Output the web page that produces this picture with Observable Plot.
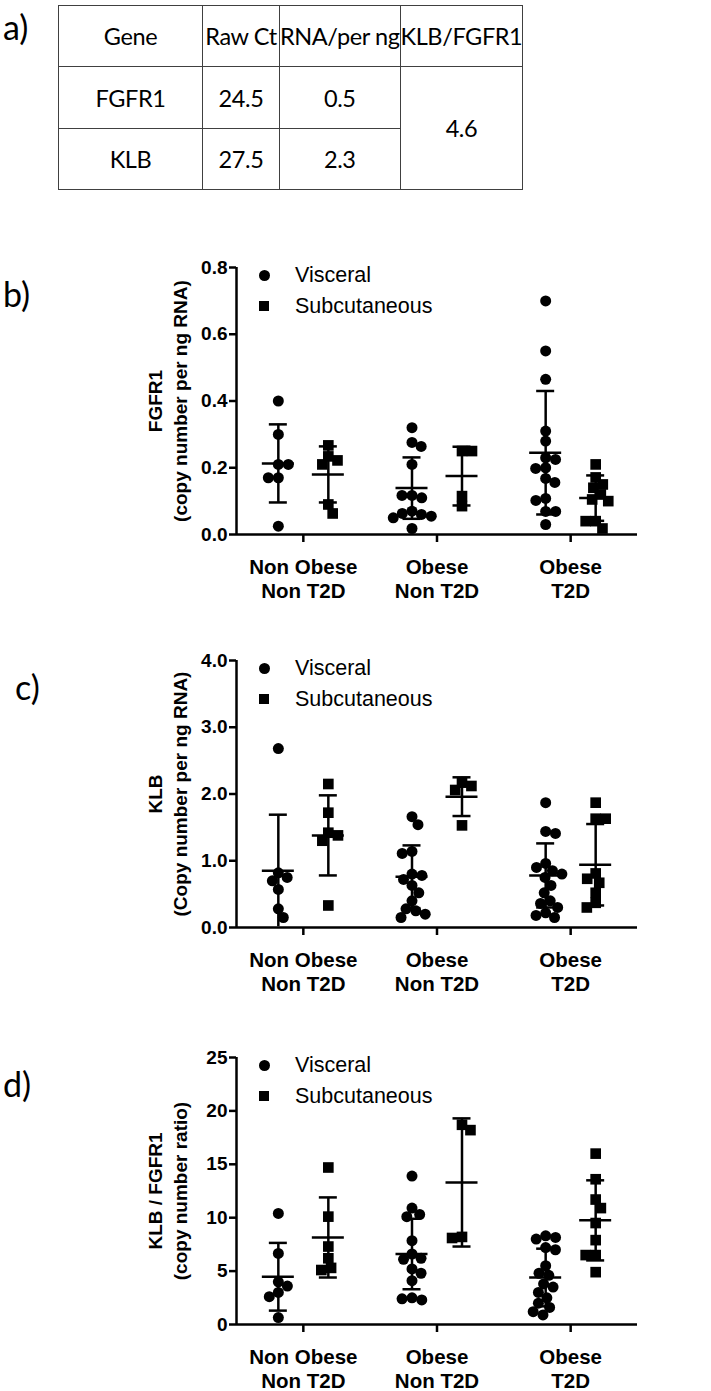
<!DOCTYPE html>
<html><head><meta charset="utf-8">
<script src="https://cdn.jsdelivr.net/npm/d3@7"></script>
<script src="https://cdn.jsdelivr.net/npm/@observablehq/plot@0.6"></script>
<style>
html,body{margin:0;padding:0;background:#fff;}
#page{position:relative;width:711px;height:1391px;overflow:hidden;background:#fff;font-family:"Liberation Sans",Arial,sans-serif;color:#000;}
#page svg{position:absolute;left:0;}
.plabel{position:absolute;font-family:Lato,"Noto Sans",sans-serif;font-size:34px;line-height:34px;}
table.t{position:absolute;left:58px;top:5px;border-collapse:collapse;table-layout:fixed;font-family:Lato,"Noto Sans",sans-serif;font-size:23.5px;letter-spacing:-0.4px;color:#000;}
table.t td{border:1px solid #404040;text-align:center;vertical-align:middle;padding:0;white-space:nowrap;overflow:visible;}
.ylab{position:absolute;width:340px;height:50px;font-weight:bold;font-size:19px;line-height:25px;text-align:center;transform:rotate(-90deg);white-space:nowrap;}
.legtxt{position:absolute;font-size:21.5px;line-height:21px;font-weight:normal;white-space:nowrap;}
.legsym{position:absolute;background:#000;}
svg g[aria-label^="y-axis"] line, svg g[aria-label^="y-axis"] path,
svg g[aria-label^="x-axis"] line, svg g[aria-label^="x-axis"] path {stroke-width:2.5px;}
</style></head><body><div id="page"></div>
<script>
// ---------- a) table ----------
const tableHeader = ["Gene", "Raw Ct", "RNA/per ng", "KLB/FGFR1"];
const genes = ["FGFR1", "KLB"];
const rawCt = ["24.5", "27.5"];
const rnaPerNg = ["0.5", "2.3"];
const klbFgfr1 = "4.6";

// ---------- groups ----------
const groups = ["Non Obese\nNon T2D", "Obese\nNon T2D", "Obese\nT2D"];
const tissues = ["Visceral", "Subcutaneous"];

// ---------- b) FGFR1 copy number per ng RNA ----------
const fgfr1Visceral = [
  [0.40, 0.30, 0.21, 0.21, 0.17, 0.17, 0.025],
  [0.32, 0.276, 0.264, 0.21, 0.117, 0.117, 0.11, 0.07, 0.063, 0.06, 0.055, 0.05, 0.018],
  [0.70, 0.55, 0.465, 0.31, 0.28, 0.23, 0.225, 0.20, 0.198, 0.168, 0.156, 0.108, 0.102, 0.069, 0.069, 0.03]
];
const fgfr1Subcutaneous = [
  [0.267, 0.234, 0.222, 0.21, 0.09, 0.063],
  [0.25, 0.25, 0.115, 0.085],
  [0.21, 0.171, 0.15, 0.14, 0.12, 0.105, 0.10, 0.04, 0.04, 0.018]
];
const fgfr1VisceralMean = [0.213, 0.139, 0.245];
const fgfr1VisceralSD = [0.117, 0.092, 0.185];
const fgfr1SubcutaneousMean = [0.180, 0.175, 0.109];
const fgfr1SubcutaneousSD = [0.084, 0.088, 0.068];
const fgfr1Ticks = [0, 0.2, 0.4, 0.6, 0.8];

// ---------- c) KLB copy number per ng RNA ----------
const klbVisceral = [
  [2.68, 0.82, 0.75, 0.70, 0.57, 0.28, 0.15],
  [1.66, 1.54, 1.14, 1.11, 0.80, 0.78, 0.72, 0.63, 0.52, 0.40, 0.28, 0.25, 0.20, 0.15],
  [1.87, 1.44, 1.41, 0.96, 0.90, 0.85, 0.80, 0.75, 0.63, 0.52, 0.40, 0.36, 0.30, 0.22, 0.18, 0.15]
];
const klbSubcutaneous = [
  [2.15, 1.72, 1.42, 1.38, 1.30, 0.33],
  [2.17, 2.12, 2.06, 1.53],
  [1.87, 1.63, 1.63, 0.81, 0.73, 0.67, 0.52, 0.37, 0.30]
];
const klbVisceralMean = [0.85, 0.76, 0.78];
const klbVisceralSD = [0.84, 0.47, 0.48];
const klbSubcutaneousMean = [1.38, 1.96, 0.94];
const klbSubcutaneousSD = [0.60, 0.29, 0.61];
const klbTicks = [0, 1, 2, 3, 4];

// ---------- d) KLB / FGFR1 ratio ----------
const ratioVisceral = [
  [10.4, 6.65, 4.0, 3.6, 3.0, 2.6, 0.65],
  [13.9, 10.9, 10.3, 10.1, 7.85, 6.6, 6.2, 6.1, 5.2, 4.8, 4.1, 2.5, 2.3, 2.4],
  [8.3, 8.15, 8.0, 7.2, 7.0, 5.5, 4.8, 4.6, 3.8, 3.5, 3.0, 2.5, 2.0, 1.6, 1.2, 0.9]
];
const ratioSubcutaneous = [
  [14.7, 10.1, 7.3, 6.2, 5.3, 5.1],
  [18.7, 18.2, 8.2, 8.1],
  [16.0, 13.6, 11.7, 10.9, 9.5, 7.9, 6.5, 6.5, 4.9]
];
const ratioVisceralMean = [4.47, 6.6, 4.4];
const ratioVisceralSD = [3.17, 3.3, 2.7];
const ratioSubcutaneousMean = [8.15, 13.3, 9.75];
const ratioSubcutaneousSD = [3.75, 6.0, 3.75];
const ratioTicks = [0, 5, 10, 15, 20, 25];

// ---------- layout ----------
const page = document.getElementById("page");
const W = 711, ML = 236, MR = 74, MT = 20, FH = 267, MB = 64;
const pxPerX = (W - ML - MR) / 3;
const colOff = 25 / pxPerX, meanHalf = 16 / pxPerX, capHalf = 9 / pxPerX;

function el(tag, cls, style, html) {
  const e = document.createElement(tag);
  if (cls) e.className = cls;
  Object.assign(e.style, style || {});
  if (html != null) e.innerHTML = html;
  page.appendChild(e);
  return e;
}

// table
{
  const t = document.createElement("table");
  t.className = "t";
  const colW = [144, 77, 120, 119];
  const cg = document.createElement("colgroup");
  colW.forEach(w => { const c = document.createElement("col"); c.style.width = w + "px"; cg.appendChild(c); });
  t.appendChild(cg);
  const rowH = [61, 62, 61];
  const tr0 = document.createElement("tr"); tr0.style.height = rowH[0] + "px";
  tableHeader.forEach(h => { const td = document.createElement("td"); td.textContent = h; tr0.appendChild(td); });
  t.appendChild(tr0);
  genes.forEach((g, i) => {
    const tr = document.createElement("tr"); tr.style.height = rowH[i + 1] + "px";
    [g, rawCt[i], rnaPerNg[i]].forEach(v => { const td = document.createElement("td"); td.textContent = v; tr.appendChild(td); });
    if (i === 0) { const td = document.createElement("td"); td.rowSpan = 2; td.textContent = klbFgfr1; tr.appendChild(td); }
    t.appendChild(tr);
  });
  page.appendChild(t);
}

// beeswarm offsets (px) computed from values
function swarm(values, pxPerY, D) {
  const order = d3.range(values.length).sort((a, b) => values[b] - values[a]);
  const placed = [], out = new Array(values.length);
  let side = 1;
  for (const i of order) {
    const y = values[i] * pxPerY;
    const near = placed.filter(p => Math.abs(p.y - y) < D);
    const cands = [0];
    for (const p of near) { const dx = Math.sqrt(D * D - (p.y - y) ** 2); cands.push(p.x + dx, p.x - dx); }
    const ok = cands.filter(c => near.every(p => (c - p.x) ** 2 + (p.y - y) ** 2 >= D * D - 1e-6));
    ok.sort((a, b) => (Math.abs(a) - Math.abs(b)) || (b - a) * side);
    const x = ok[0];
    if (x !== 0) side = -side;
    placed.push({x, y}); out[i] = x;
  }
  return out;
}

const panels = [
  {tag: "b)", tagX: 3, ymax: 0.8, ticks: fgfr1Ticks, fmt: d3.format(".1f"), frameTop: 267,
   vis: fgfr1Visceral, sub: fgfr1Subcutaneous,
   vm: fgfr1VisceralMean, vs: fgfr1VisceralSD, sm: fgfr1SubcutaneousMean, ss: fgfr1SubcutaneousSD,
   label: ["FGFR1", "(copy number per ng RNA)"]},
  {tag: "c)", tagX: 15, ymax: 4, ticks: klbTicks, fmt: d3.format(".1f"), frameTop: 660,
   vis: klbVisceral, sub: klbSubcutaneous,
   vm: klbVisceralMean, vs: klbVisceralSD, sm: klbSubcutaneousMean, ss: klbSubcutaneousSD,
   label: ["KLB", "(Copy number per ng RNA)"]},
  {tag: "d)", tagX: 3, ymax: 25, ticks: ratioTicks, fmt: d3.format("d"), frameTop: 1057,
   vis: ratioVisceral, sub: ratioSubcutaneous,
   vm: ratioVisceralMean, vs: ratioVisceralSD, sm: ratioSubcutaneousMean, ss: ratioSubcutaneousSD,
   label: ["KLB / FGFR1", "(copy number ratio)"]}
];

el("div", "plabel", {left: "3px", top: "10px"}, "a)");

for (const p of panels) {
  const pxPerY = FH / p.ymax;
  const dots = [], summary = [];
  [p.vis, p.sub].forEach((arr, t) => {
    arr.forEach((vals, g) => {
      const offs = swarm(vals, pxPerY, 10);
      vals.forEach((v, k) => dots.push({g, t, v, off: offs[k]}));
    });
  });
  [[p.vm, p.vs], [p.sm, p.ss]].forEach(([m, s], t) => {
    m.forEach((mean, g) => summary.push({g, t, mean, sd: s[g]}));
  });
  const colX = d => d.g + (d.t === 0 ? -colOff : colOff);
  const dotX = d => colX(d) + d.off / pxPerX;

  const svg = Plot.plot({
    width: W, height: MT + FH + MB,
    marginTop: MT, marginBottom: MB, marginLeft: ML, marginRight: MR,
    style: {fontFamily: "'Liberation Sans', Arial, sans-serif", fontSize: "19px", fontWeight: "bold", color: "black", background: "transparent", overflow: "visible"},
    x: {domain: [-0.5, 2.5], ticks: [0, 1, 2], tickFormat: () => "", tickSize: 8, label: null},
    y: {domain: [0, p.ymax], ticks: p.ticks, tickFormat: p.fmt, tickSize: 7, tickPadding: 2, label: null},
    marks: [
      Plot.ruleX([-0.5], {stroke: "black", strokeWidth: 2.5}),
      Plot.ruleY([0], {stroke: "black", strokeWidth: 2.5}),
      Plot.dot(dots.filter(d => d.t === 0), {x: dotX, y: "v", r: 5.5, fill: "black", stroke: null}),
      Plot.dot(dots.filter(d => d.t === 1), {x: dotX, y: "v", r: 6, symbol: "square", fill: "black", stroke: null}),
      Plot.ruleX(summary, {x: colX, y1: d => Math.max(0, d.mean - d.sd), y2: d => d.mean + d.sd, stroke: "black", strokeWidth: 2.5}),
      Plot.ruleY(summary, {y: "mean", x1: d => colX(d) - meanHalf, x2: d => colX(d) + meanHalf, stroke: "black", strokeWidth: 2.5}),
      Plot.ruleY(summary, {y: d => d.mean + d.sd, x1: d => colX(d) - capHalf, x2: d => colX(d) + capHalf, stroke: "black", strokeWidth: 2.5}),
      Plot.ruleY(summary.filter(d => d.mean - d.sd > 0.005 * p.ymax), {y: d => d.mean - d.sd, x1: d => colX(d) - capHalf, x2: d => colX(d) + capHalf, stroke: "black", strokeWidth: 2.5}),
      Plot.text(groups, {x: (d, i) => i, text: d => d, frameAnchor: "bottom", lineAnchor: "top", dy: 22, fontSize: 20.5, fontWeight: "bold", lineHeight: 1.18, fill: "black"})
    ]
  });
  svg.style.top = (p.frameTop - MT) + "px";
  page.appendChild(svg);

  // panel tag
  el("div", "plabel", {left: p.tagX + "px", top: (p.frameTop + 10) + "px"}, p.tag);
  // y label
  const yc = p.frameTop + FH / 2;
  el("div", "ylab", {left: (167.5 - 170) + "px", top: (yc - 25) + "px"}, p.label[0] + "<br>" + p.label[1]);
  // legend
  el("div", "legsym", {left: "258.5px", top: (p.frameTop + 8 - 5.5) + "px", width: "11px", height: "11px", borderRadius: "50%"});
  el("div", "legsym", {left: "258.7px", top: (p.frameTop + 39 - 5.3) + "px", width: "10.6px", height: "10.6px"});
  el("div", "legtxt", {left: "295px", top: (p.frameTop + 8 - 10.5) + "px"}, tissues[0]);
  el("div", "legtxt", {left: "295px", top: (p.frameTop + 39 - 10.5) + "px"}, tissues[1]);
}
</script></body></html>
